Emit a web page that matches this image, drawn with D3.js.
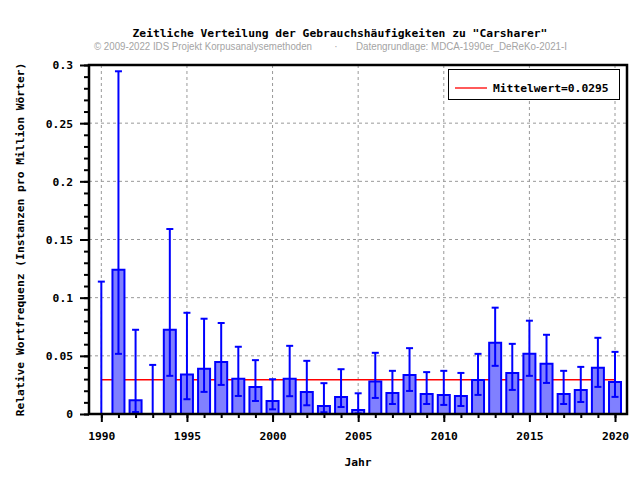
<!DOCTYPE html>
<html>
<head>
<meta charset="utf-8">
<script src="https://cdn.jsdelivr.net/npm/d3@7"></script>
<style>
  body { margin: 0; background: #fff; }
  text { font-family: "DejaVu Sans Mono", monospace; font-weight: bold; font-size: 11.3px; fill: #000; }
  .sub { font-family: "Liberation Sans", Arial, sans-serif; font-weight: normal; font-size: 10px; fill: #a4a4a4; }
</style>
</head>
<body>
<div id="chart"></div>
<script>
// data
var years = d3.range(1990, 2021);
var values = [0, 0.1241, 0.0118, 0, 0.0724, 0.0340, 0.0388, 0.0448, 0.0302, 0.0233,
              0.0112, 0.0302, 0.0190, 0.0069, 0.0147, 0.0035, 0.0279, 0.0181, 0.0336, 0.0172,
              0.0164, 0.0155, 0.0293, 0.0612, 0.0353, 0.0517, 0.0431, 0.0172, 0.0207, 0.0397,
              0.0276];
var errLow = [0, 0.0517, 0.0017, 0, 0.0328, 0.0127, 0.0190, 0.0250, 0.0155, 0.0112,
              0.0040, 0.0153, 0.0075, 0.0015, 0.0060, 0.0005, 0.0138, 0.0086, 0.0198, 0.0086,
              0.0078, 0.0069, 0.0164, 0.0414, 0.0207, 0.0328, 0.0267, 0.0086, 0.0103, 0.0233,
              0.0147];
var errHigh = [0.1138, 0.2946, 0.0724, 0.0422, 0.1590, 0.0870, 0.0819, 0.0782, 0.0578, 0.0463,
               0.0299, 0.0586, 0.0457, 0.0265, 0.0385, 0.0178, 0.0526, 0.0371, 0.0566, 0.0360,
               0.0371, 0.0353, 0.0517, 0.0914, 0.0603, 0.0802, 0.0681, 0.0371, 0.0405, 0.0655,
               0.0534];
var meanValue = 0.0295;
var yTicks = [0, 0.05, 0.1, 0.15, 0.2, 0.25, 0.3];
var yTickLabels = ["0", "0.05", "0.1", "0.15", "0.2", "0.25", "0.3"];
var xTicks = [1990, 1995, 2000, 2005, 2010, 2015, 2020];

var margin = { top: 65, right: 13, bottom: 66, left: 89 },
    width = 640 - margin.left - margin.right,
    height = 480 - margin.top - margin.bottom;

var svg = d3.select("#chart")
    .append("svg")
    .attr("width", 640)
    .attr("height", 480);

// title + source line
svg.append("text")
    .attr("x", 340).attr("y", 37)
    .attr("text-anchor", "middle")
    .text('Zeitliche Verteilung der Gebrauchshäufigkeiten zu "Carsharer"');
svg.append("text").attr("class", "sub")
    .attr("x", 94).attr("y", 50)
    .attr("textLength", 218).attr("lengthAdjust", "spacingAndGlyphs")
    .text("© 2009-2022 IDS Projekt Korpusanalysemethoden");
svg.append("text").attr("class", "sub")
    .attr("x", 336).attr("y", 50).attr("text-anchor", "middle")
    .text("·");
svg.append("text").attr("class", "sub")
    .attr("x", 356).attr("y", 50)
    .attr("textLength", 211).attr("lengthAdjust", "spacingAndGlyphs")
    .text("Datengrundlage: MDCA-1990er_DeReKo-2021-I");

var g = svg.append("g")
    .attr("transform", "translate(" + margin.left + "," + margin.top + ")");

var x = d3.scaleLinear()
    .domain([1989.28, 2020.7])
    .range([0, width]);

var y = d3.scaleLinear()
    .domain([0, 0.3])
    .range([height, 0]);

// grid
g.append("g")
    .selectAll("line")
    .data(xTicks)
    .enter()
    .append("line")
    .attr("x1", function (d) { return x(d); })
    .attr("x2", function (d) { return x(d); })
    .attr("y1", 0).attr("y2", height)
    .attr("stroke", "#999").attr("stroke-dasharray", "3,3");
g.append("g")
    .selectAll("line")
    .data(yTicks.slice(1, -1))
    .enter()
    .append("line")
    .attr("y1", function (d) { return y(d); })
    .attr("y2", function (d) { return y(d); })
    .attr("x1", 0).attr("x2", width)
    .attr("stroke", "#999").attr("stroke-dasharray", "3,3");

// mean line
g.append("line")
    .attr("x1", x(1990)).attr("x2", x(2020))
    .attr("y1", y(meanValue)).attr("y2", y(meanValue))
    .attr("stroke", "#ff0000").attr("stroke-width", 1.5);

// bars
var bw = 12;
g.append("g")
    .selectAll("path")
    .data(years)
    .enter()
    .append("path")
    .attr("d", function (d, i) {
        var x0 = x(d) - bw / 2, y0 = y(values[i]), y1 = y(0);
        return "M" + x0 + "," + y1 + "V" + y0 + "H" + (x0 + bw) + "V" + y1 + "Z";
    })
    .attr("fill", "#8080ff")
    .attr("stroke", "#0000ff")
    .attr("stroke-width", 2);

// error bars
var err = g.append("g").attr("stroke", "#0000ff").attr("stroke-width", 2);
years.forEach(function (d, i) {
    err.append("line")
        .attr("x1", x(d)).attr("x2", x(d))
        .attr("y1", y(errLow[i])).attr("y2", y(errHigh[i]));
    [errLow[i], errHigh[i]].forEach(function (v) {
        err.append("line")
            .attr("x1", x(d) - 3.5).attr("x2", x(d) + 3.5)
            .attr("y1", y(v)).attr("y2", y(v));
    });
});

// axes
g.append("g")
    .attr("transform", "translate(0," + height + ")")
    .call(d3.axisBottom(x).tickValues(years).tickSize(4).tickFormat(""))
    .call(function (a) { a.select(".domain").remove(); a.selectAll("line").attr("stroke-width", 2); });
g.append("g")
    .attr("transform", "translate(0," + height + ")")
    .call(d3.axisBottom(x).tickValues(xTicks).tickSize(8).tickPadding(10).tickFormat(d3.format("d")))
    .call(function (a) {
        a.select(".domain").remove();
        a.selectAll("line").attr("stroke-width", 2);
        a.selectAll("text").attr("fill", "#000");
    });

g.append("g")
    .call(d3.axisLeft(y).tickValues(d3.range(0, 0.3001, 0.01)).tickSize(5).tickFormat(""))
    .call(function (a) { a.select(".domain").remove(); a.selectAll("line").attr("stroke-width", 2); });
g.append("g")
    .call(d3.axisLeft(y).tickValues(yTicks).tickSize(9).tickPadding(7)
        .tickFormat(function (d, i) { return yTickLabels[i]; }))
    .call(function (a) {
        a.select(".domain").remove();
        a.selectAll("line").attr("stroke-width", 2);
        a.selectAll("text").attr("fill", "#000").attr("dy", "0.35em");
    });

g.selectAll(".tick text").attr("font-size", null).attr("font-family", null);

// frame
g.append("rect")
    .attr("x", 0).attr("y", 0)
    .attr("width", width).attr("height", height)
    .attr("fill", "none")
    .attr("stroke", "#000").attr("stroke-width", 2.5);

// axis labels
svg.append("text")
    .attr("x", margin.left + width / 2).attr("y", 466)
    .attr("text-anchor", "middle")
    .text("Jahr");
svg.append("text")
    .attr("transform", "translate(24," + (margin.top + height / 2) + ") rotate(-90)")
    .attr("text-anchor", "middle")
    .text("Relative Wortfrequenz (Instanzen pro Million Wörter)");

// legend
var lg = svg.append("g");
lg.append("rect")
    .attr("x", 448.5).attr("y", 69.5)
    .attr("width", 171).attr("height", 30)
    .attr("fill", "#fff").attr("stroke", "#000");
lg.append("line")
    .attr("x1", 455).attr("x2", 487)
    .attr("y1", 88).attr("y2", 88)
    .attr("stroke", "#ff0000").attr("stroke-width", 1.3);
lg.append("text")
    .attr("x", 493).attr("y", 92)
    .text("Mittelwert=" + meanValue);
</script>
</body>
</html>
